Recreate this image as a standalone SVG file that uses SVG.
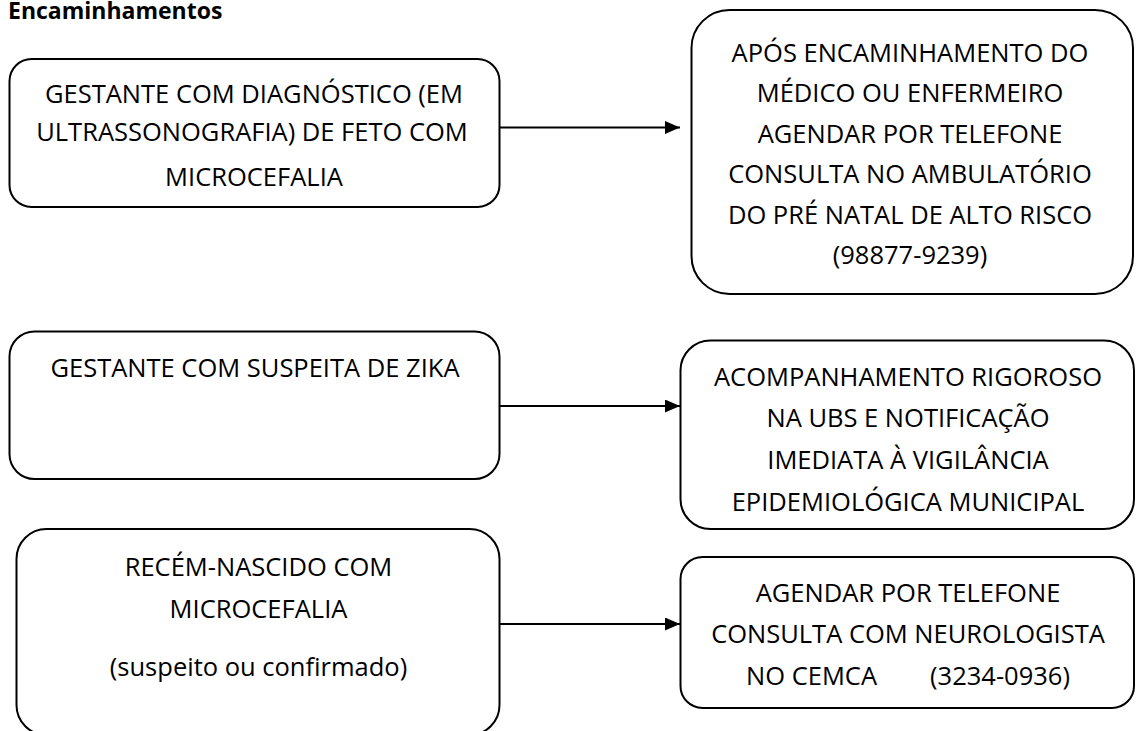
<svg xmlns="http://www.w3.org/2000/svg" width="1136" height="731" viewBox="0 0 1136 731">
<style>
.box{fill:#fff;stroke:#000;stroke-width:2}
.t{font-family:"Open Sans","Noto Sans","Liberation Sans",sans-serif;font-size:25.5px;fill:#000;text-anchor:middle}
.title{font-family:"Open Sans","Noto Sans","Liberation Sans",sans-serif;font-size:23px;font-weight:bold;fill:#000}
.conn{stroke:#000;stroke-width:2;fill:none}
</style>
<defs>
<marker id="arr" markerUnits="userSpaceOnUse" markerWidth="16" markerHeight="14" refX="15" refY="6.5" orient="auto">
<path d="M0,0 L15,6.5 L0,13 Z" fill="#000"/>
</marker>
</defs>
<rect width="1136" height="731" fill="#fff"/>
<text class="title" x="8" y="19">Encaminhamentos</text>

<g id="n1">
<rect class="box" x="9.5" y="59" width="490" height="148" rx="22" ry="22"/>
<text class="t" x="254" y="103">GESTANTE COM DIAGNÓSTICO (EM</text>
<text class="t" x="252" y="140.5">ULTRASSONOGRAFIA) DE FETO COM</text>
<text class="t" x="254" y="185.5">MICROCEFALIA</text>
</g>

<g id="n2">
<rect class="box" x="691.5" y="10" width="441.5" height="284" rx="38" ry="38"/>
<text class="t" x="910" y="61.5">APÓS ENCAMINHAMENTO DO</text>
<text class="t" x="910" y="102">MÉDICO OU ENFERMEIRO</text>
<text class="t" x="910" y="142.5">AGENDAR POR TELEFONE</text>
<text class="t" x="910" y="183">CONSULTA NO AMBULATÓRIO</text>
<text class="t" x="910" y="223.5">DO PRÉ NATAL DE ALTO RISCO</text>
<text class="t" x="910" y="263.5">(98877-9239)</text>
</g>

<g id="n3">
<rect class="box" x="9.5" y="331.5" width="490" height="147.5" rx="25" ry="25"/>
<text class="t" x="255" y="376.5">GESTANTE COM SUSPEITA DE ZIKA</text>
</g>

<g id="n4">
<rect class="box" x="680.5" y="340.5" width="453.5" height="188.5" rx="30" ry="30"/>
<text class="t" x="908" y="385.5">ACOMPANHAMENTO RIGOROSO</text>
<text class="t" x="908" y="427">NA UBS E NOTIFICAÇÃO</text>
<text class="t" x="908" y="469">IMEDIATA À VIGILÂNCIA</text>
<text class="t" x="908" y="510.5">EPIDEMIOLÓGICA MUNICIPAL</text>
</g>

<g id="n5">
<rect class="box" x="16.5" y="529" width="483" height="206" rx="30" ry="30"/>
<text class="t" x="258.5" y="576">RECÉM-NASCIDO COM</text>
<text class="t" x="258.5" y="618">MICROCEFALIA</text>
<text class="t" x="258.5" y="676">(suspeito ou confirmado)</text>
</g>

<g id="n6">
<rect class="box" x="680.5" y="557" width="453.5" height="151" rx="22" ry="22"/>
<text class="t" x="908" y="601.5">AGENDAR POR TELEFONE</text>
<text class="t" x="908" y="643">CONSULTA COM NEUROLOGISTA</text>
<text class="t" x="908" y="684.5" xml:space="preserve">NO CEMCA        (3234-0936)</text>
</g>

<g id="connectors">
<line class="conn" x1="500" y1="127.5" x2="680" y2="127.5" marker-end="url(#arr)"/>
<line class="conn" x1="500" y1="406" x2="680" y2="406" marker-end="url(#arr)"/>
<line class="conn" x1="500" y1="624" x2="680" y2="624" marker-end="url(#arr)"/>
</g>
</svg>
